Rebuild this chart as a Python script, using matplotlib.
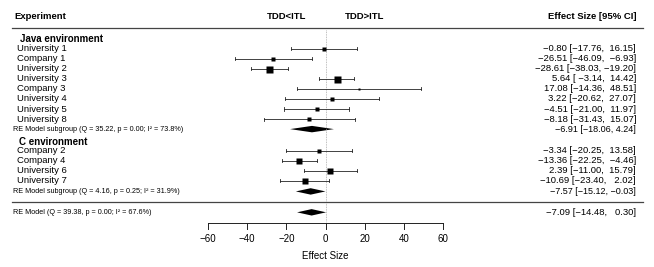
import numpy as np
import matplotlib
matplotlib.use("Agg")
import matplotlib.pyplot as plt
from matplotlib.patches import Polygon

plt.rcParams["font.family"] = ["Liberation Sans", "DejaVu Sans"]

# ---- data -------------------------------------------------------------
java_names = ["University 1", "Company 1", "University 2", "University 3",
              "Company 3", "University 4", "University 5", "University 8"]
java_est = [-0.80, -26.51, -28.61, 5.64, 17.08, 3.22, -4.51, -8.18]
java_lo = [-17.76, -46.09, -38.03, -3.14, -14.36, -20.62, -21.00, -31.43]
java_hi = [16.15, -6.93, -19.20, 14.42, 48.51, 27.07, 11.97, 15.07]
java_wt = [4.7, 3.7, 7.0, 7.0, 2.3, 3.3, 4.3, 3.3]
java_sum = (-6.91, -18.06, 4.24)
java_sum_label = "RE Model subgroup (Q = 35.22, p = 0.00; I² = 73.8%)"

c_names = ["Company 2", "Company 4", "University 6", "University 7"]
c_est = [-3.34, -13.36, 2.39, -10.69]
c_lo = [-20.25, -22.25, -11.00, -23.40]
c_hi = [13.58, -4.46, 15.79, 2.02]
c_wt = [4.3, 6.5, 6.0, 5.3]
c_sum = (-7.57, -15.12, -0.03)
c_sum_label = "RE Model subgroup (Q = 4.16, p = 0.25; I² = 31.9%)"

overall = (-7.09, -14.48, 0.30)
overall_label = "RE Model (Q = 39.38, p = 0.00; I² = 67.6%)"

xticks = [-60, -40, -20, 0, 20, 40, 60]

# ---- layout -----------------------------------------------------------
W, H = 654, 267
fig = plt.figure(figsize=(W / 100, H / 100), dpi=100)
ax = fig.add_axes([0, 0, 1, 1])
ax.set_xlim(-165.8, 167.3)
ax.set_ylim(21.72, -4.846)
ax.axis("off")
tr = ax.get_yaxis_transform()


def px(x):
    return x / W


def fmt(v, w=0):
    return f"{v:>{w}.2f}".replace("-", "\u2212")


FS = 6.8
LC = "#222222"
RX = px(636)


def ci_text(est, lo, hi, pad=True):
    if pad:
        return f"{fmt(est)} [{fmt(lo, 6)}, {fmt(hi, 6)}]"
    return f"{fmt(est)} [{fmt(lo)}, {fmt(hi)}]"


def study_row(y, name, est, lo, hi, wt):
    ax.text(px(17), y, name, transform=tr, fontsize=FS, va="center", ha="left")
    ax.plot([lo, hi], [y, y], color=LC, lw=0.6)
    for e in (lo, hi):
        ax.plot([e, e], [y - 0.15, y + 0.15], color=LC, lw=0.6)
    ax.plot(est, y, marker="s", ms=wt * 0.72, color="black", mec="none")
    ax.text(RX, y, ci_text(est, lo, hi), transform=tr, fontsize=FS,
            va="center", ha="right")


def summary_row(y, label, vals, pad=False):
    est, lo, hi = vals
    ax.add_patch(Polygon([(lo, y), (est, y - 0.32), (hi, y), (est, y + 0.32)],
                         closed=True, color="black", lw=0))
    ax.text(px(13), y, label, transform=tr, fontsize=5.2, va="center", ha="left")
    ax.text(RX, y, ci_text(est, lo, hi, pad), transform=tr,
            fontsize=FS if pad else 6.5, va="center", ha="right")


# header
ax.text(px(14), -3.22, "Experiment", transform=tr, fontsize=FS, fontweight="bold",
        va="center", ha="left")
ax.text(RX, -3.22, "Effect Size [95% CI]", transform=tr, fontsize=FS,
        fontweight="bold", va="center", ha="right")
ax.text(-20, -3.22, "TDD<ITL", fontsize=FS, fontweight="bold", va="center", ha="center")
ax.text(20, -3.22, "TDD>ITL", fontsize=FS, fontweight="bold", va="center", ha="center")
ax.plot([px(12), px(643)], [-2.06, -2.06], transform=tr, color="#444444", lw=0.9)

# reference line at zero
ax.plot([0, 0], [-1.9, 17.25], color="#aaaaaa", lw=0.6, ls=(0, (1, 1)))

# Java group
ax.text(px(20), -0.95, "Java environment", transform=tr, fontsize=7.0,
        fontweight="bold", va="center", ha="left")
for i, args in enumerate(zip(java_names, java_est, java_lo, java_hi, java_wt)):
    study_row(i, *args)
summary_row(8, java_sum_label, java_sum)

# C group
ax.text(px(19), 9.32, "C environment", transform=tr, fontsize=7.0,
        fontweight="bold", va="center", ha="left")
for i, args in enumerate(zip(c_names, c_est, c_lo, c_hi, c_wt)):
    study_row(10.15 + i, *args)
summary_row(14.2, c_sum_label, c_sum)

# overall
ax.plot([px(12), px(643)], [15.28, 15.28], transform=tr, color="#444444", lw=0.9)
summary_row(16.28, overall_label, overall, pad=True)

# x axis
ya = 17.3
ax.plot([xticks[0], xticks[-1]], [ya, ya], color=LC, lw=0.7)
for t in xticks:
    ax.plot([t, t], [ya, ya + 0.6], color=LC, lw=0.7)
    ax.text(t, 18.94, str(t).replace("-", "\u2212"), fontsize=7.0,
            va="center", ha="center")
ax.text(0, 20.6, "Effect Size", fontsize=7.0, va="center", ha="center")

fig.savefig("out.png", dpi=100)
